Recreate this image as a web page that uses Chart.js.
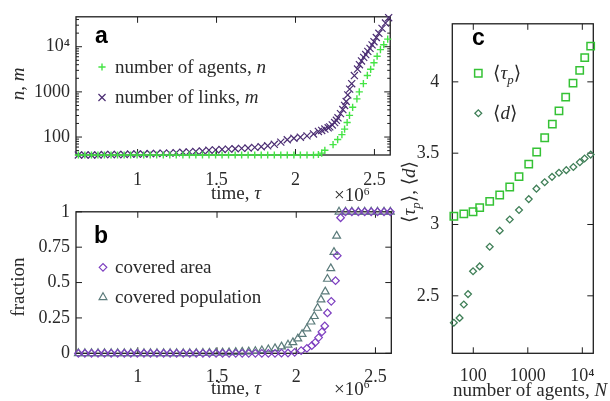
<!DOCTYPE html>
<html>
<head>
<meta charset="utf-8">
<script src="https://cdn.jsdelivr.net/npm/chart.js@4.4.1/dist/chart.umd.min.js"></script>
<style>
html, body { margin: 0; padding: 0; background: #fff; }
body { width: 610px; height: 401px; position: relative; overflow: hidden; }
canvas { position: absolute; }
</style>
</head>
<body>
<canvas id="ca" width="400" height="205" style="left:0;top:0;width:400px;height:205px"></canvas>
<canvas id="cb" width="400" height="206" style="left:0;top:195px;width:400px;height:206px"></canvas>
<canvas id="cc" width="210" height="401" style="left:400px;top:0;width:210px;height:401px"></canvas>
<script>
// ---- data (time tau in units of 10^6) ----
const tauGrid = [0.625,0.666,0.708,0.749,0.790,0.832,0.873,0.915,0.956,0.997,1.039,1.080,1.121,1.163,1.204,1.245,1.287,1.328,1.369,1.411,1.452,1.494,1.535,1.576,1.618,1.659,1.700,1.742,1.783,1.824,1.866,1.907,1.948,1.990,2.031,2.073,2.114];

// panel a
const tauLinks = tauGrid.concat([2.145,2.166,2.186,2.207,2.217,2.233,2.248,2.259,2.269,2.285,2.300,2.311,2.321,2.331,2.343,2.356,2.373,2.393,2.405,2.418,2.432,2.445,2.458,2.472,2.485,2.497,2.512,2.528,2.548,2.570,2.590]);
const links = [40,40,40,40,41,41,41,41,42,42,42,43,43,44,44,45,46,47,48,49,51,52,53,54,55,56,57,59,61,64,69,77,87,94,99,106,117,
  133,140,150,160,168,185,209,235,267,330,406,500,612,855,1150,1520,2300,3200,4000,4850,5800,6700,7900,9200,11000,12900,16000,19800,25500,33500,44000];
const tauAgents = tauGrid.concat([2.145,2.166,2.186,2.238,2.267,2.294,2.311,2.327,2.342,2.362,2.389,2.404,2.430,2.455,2.476,2.497,2.517,2.538,2.559,2.584]);
const agents = [40,40,40,40,40,40,40,40,40,40,40,40,40,40,40,40,40,40,40,40,40,40,40,40,40,40,40,40,40,40,40,40,40,40,40,40,40,
  41,44,51,68,88,113,150,210,301,455,700,1000,1520,2310,3160,4410,6160,8640,11100,14700];

// panel b
const tauPop = tauGrid.slice(0, 33).concat([1.979,2.010,2.037,2.067,2.093,2.114,2.135,2.156,2.183,2.197,2.218,2.238,2.255,2.270,2.311,2.351,2.392,2.432,2.473,2.513,2.554,2.594]);
const popFrac = [0,0,0,0,0,0,0,0,0,0,0,0,0,0,0,0,0,0,
  0.001,0.002,0.003,0.004,0.005,0.006,0.008,0.010,0.012,0.015,0.020,0.027,0.035,0.047,0.060,
  0.077,0.104,0.135,0.174,0.223,0.262,0.320,0.379,0.436,0.525,0.600,0.715,0.830,1,1,1,1,1,1,1,1,1];
const tauArea = tauGrid.slice(0, 33).concat([1.990,2.031,2.067,2.098,2.120,2.141,2.162,2.180,2.197,2.221,2.248,2.259,2.280,2.311,2.351,2.392,2.432,2.473,2.513,2.554,2.594]);
const areaFrac = [0,0,0,0,0,0,0,0,0,0,0,0,0,0,0,0,0,0,0,0,0,0,0,0,0,0,0,0,0,0,0,0.001,0.002,
  0.007,0.019,0.035,0.054,0.077,0.111,0.151,0.193,0.285,0.367,0.513,0.690,0.958,1,1,1,1,1,1,1,1];

// panel c
const nTau = [44,67,99,131,200,305,466,690,1040,1455,2040,2820,3730,4950,6750,8950,11070,14220];
const tauP = [3.058,3.074,3.089,3.118,3.162,3.207,3.263,3.336,3.423,3.508,3.608,3.704,3.797,3.893,3.991,4.080,4.170,4.250];
const nD = [44,56,67,80,99,131,200,305,466,690,1040,1440,2040,2780,3730,5080,6850,9000,11000,14220];
const dMean = [2.311,2.345,2.439,2.512,2.672,2.706,2.844,2.957,3.035,3.102,3.178,3.251,3.296,3.334,3.363,3.381,3.403,3.436,3.463,3.490];

// tick labels
const timeTicks = [1, 1.5, 2, 2.5];
const countTicks = [100, 1000, 10000];
const countMinor = [50,60,70,80,90,200,300,400,500,600,700,800,900,2000,3000,4000,5000,6000,7000,8000,9000,20000,30000,40000];
const fracTicks = [0, 0.25, 0.5, 0.75, 1];
const cTicks = [2.5, 3, 3.5, 4];
const nTicks = [100, 1000, 10000];

const SERIF = "'Liberation Serif', 'DejaVu Serif', serif";
const SANS = "'Liberation Sans', Arial, sans-serif";
const TXT = '#2a2a2a';

const pts = (xs, ys) => xs.map((x, i) => ({ x: x, y: ys[i] }));
const bigLabel = v => v === 10000 ? '10\u2074' : String(v);

function rich(ctx, parts, x, y, o) {
  o = o || {};
  const size = o.size || 19;
  ctx.save();
  ctx.translate(x, y);
  if (o.rot) ctx.rotate(o.rot);
  const items = parts.map(p => {
    const st = p[1] || '';
    const sub = st.includes('s'), sup = st.includes('u');
    const sz = sub ? size * 0.68 : sup ? size * 0.6 : size;
    const font = (st.includes('i') ? 'italic ' : '') + (o.bold ? 'bold ' : '') + sz + 'px ' + (o.family || SERIF);
    ctx.font = font;
    return { t: p[0], font: font, w: ctx.measureText(p[0]).width,
      dy: sub ? size * 0.28 : sup ? -size * 0.32 : 0 };
  });
  const total = items.reduce((s, i) => s + i.w, 0);
  let cx = o.align === 'center' ? -total / 2 : o.align === 'right' ? -total : 0;
  ctx.fillStyle = o.color || TXT;
  ctx.textBaseline = 'alphabetic';
  items.forEach(i => { ctx.font = i.font; ctx.fillText(i.t, cx, i.dy); cx += i.w; });
  ctx.restore();
}

function marker(ctx, style, r, color, x, y, bw) {
  ctx.save();
  ctx.strokeStyle = color;
  ctx.fillStyle = 'rgba(0,0,0,0)';
  ctx.lineWidth = bw;
  Chart.helpers.drawPoint(ctx, { pointStyle: style, radius: r, rotation: 0, borderWidth: bw }, x, y);
  ctx.restore();
}

// frame with inward ticks on all four sides
const frame = {
  id: 'frame',
  beforeDatasetsDraw(chart) {
    const ctx = chart.ctx, a = chart.chartArea;
    const xs = chart.scales.x, ys = chart.scales.y;
    const minor = chart.$minorY || [];
    ctx.save();
    ctx.strokeStyle = '#1e1e1e';
    ctx.lineWidth = 1;
    ctx.beginPath();
    xs.ticks.forEach(t => {
      const p = xs.getPixelForValue(t.value);
      ctx.moveTo(p, a.bottom); ctx.lineTo(p, a.bottom - 6);
      ctx.moveTo(p, a.top); ctx.lineTo(p, a.top + 6);
    });
    ys.ticks.forEach(t => {
      const p = ys.getPixelForValue(t.value);
      ctx.moveTo(a.left, p); ctx.lineTo(a.left + 6, p);
      ctx.moveTo(a.right, p); ctx.lineTo(a.right - 6, p);
    });
    minor.forEach(v => {
      const p = ys.getPixelForValue(v);
      ctx.moveTo(a.left, p); ctx.lineTo(a.left + 3, p);
      ctx.moveTo(a.right, p); ctx.lineTo(a.right - 3, p);
    });
    ctx.stroke();
    ctx.lineWidth = 1.3;
    ctx.strokeRect(a.left, a.top, a.right - a.left, a.bottom - a.top);
    ctx.restore();
  }
};

function axisOpts(type, min, max, tickVals, fmt, fit, pad) {
  return {
    type: type, min: min, max: max,
    afterBuildTicks: s => { s.ticks = tickVals.map(v => ({ value: v })); },
    afterFit: fit,
    grid: { display: false, drawTicks: false },
    border: { display: false },
    ticks: { autoSkip: false, maxRotation: 0, padding: pad, color: TXT,
      font: { family: SERIF, size: 18 }, callback: v => fmt(v) }
  };
}

function base(layoutPad, scales, datasets, extra) {
  return {
    type: 'scatter',
    data: { datasets: datasets },
    options: {
      responsive: false, animation: false, events: [],
      layout: { padding: layoutPad },
      plugins: { legend: { display: false }, tooltip: { enabled: false } },
      scales: scales
    },
    plugins: [frame, extra]
  };
}

function ds(data, style, r, color, bw) {
  return { data: data, showLine: false, clip: false, pointStyle: style, pointRadius: r,
    borderColor: color, backgroundColor: 'rgba(0,0,0,0)', pointBorderWidth: bw };
}

const C_AGENTS = '#45e445', C_LINKS = '#4b2d73', C_AREA = '#7d3fc0', C_POP = '#5b7b7b', C_TAU = '#35c235', C_D = '#3f7f57';

// ---- panel a ----
const chartA = new Chart(document.getElementById('ca'), base(
  { left: 0, top: 13, right: 2.5, bottom: 0 },
  {
    x: axisOpts('linear', 0.61, 2.6, timeTicks, v => String(v), s => { s.height = 50; }, 14),
    y: axisOpts('logarithmic', 40, 46000, countTicks, bigLabel, s => { s.width = 76; }, 6)
  },
  [ds(pts(tauAgents, agents), 'cross', 3.6, C_AGENTS, 1.4),
   ds(pts(tauLinks, links), 'crossRot', 5, C_LINKS, 1.2)],
  { id: 'txtA', afterDraw(chart) {
      const ctx = chart.ctx;
      rich(ctx, [['a']], 95, 43.3, { family: SANS, bold: true, size: 23, color: '#000' });
      marker(ctx, 'cross', 3.6, C_AGENTS, 102, 67, 1.4);
      rich(ctx, [['number of agents, '], ['n', 'i']], 115, 72.5);
      marker(ctx, 'crossRot', 5, C_LINKS, 102, 97.5, 1.2);
      rich(ctx, [['number of links, '], ['m', 'i']], 115, 103);
      rich(ctx, [['n', 'i'], [', '], ['m', 'i']], 23.5, 84, { rot: -Math.PI / 2, align: 'center' });
      rich(ctx, [['time, '], ['\u03c4', 'i']], 236, 199, { align: 'center' });
      rich(ctx, [['\u00d710'], ['6', 'u']], 334, 201);
  } }
));
chartA.$minorY = countMinor;
chartA.draw();

// ---- panel b ----
new Chart(document.getElementById('cb'), base(
  { left: 0, top: 14, right: 2.5, bottom: 0 },
  {
    x: axisOpts('linear', 0.61, 2.6, timeTicks, v => String(v), s => { s.height = 47.7; }, 13),
    y: axisOpts('linear', 0, 1, fracTicks, v => String(v), s => { s.width = 76; }, 6)
  },
  [ds(pts(tauArea, areaFrac), 'rectRot', 3.8, C_AREA, 1.2),
   ds(pts(tauPop, popFrac), 'triangle', 4.5, C_POP, 1.2)],
  { id: 'txtB', afterDraw(chart) {
      const ctx = chart.ctx;
      rich(ctx, [['b']], 94, 47.7, { family: SANS, bold: true, size: 23, color: '#000' });
      marker(ctx, 'rectRot', 3.8, C_AREA, 103, 72.3, 1.2);
      rich(ctx, [['covered area']], 115, 77.5);
      marker(ctx, 'triangle', 4.5, C_POP, 103, 102.3, 1.2);
      rich(ctx, [['covered population']], 115, 107.5);
      rich(ctx, [['fraction']], 23.5, 92, { rot: -Math.PI / 2, align: 'center' });
      rich(ctx, [['time, '], ['\u03c4', 'i']], 236, 198.5, { align: 'center' });
      rich(ctx, [['\u00d710'], ['6', 'u']], 334, 199.5);
  } }
));

// ---- panel c ----
new Chart(document.getElementById('cc'), base(
  { left: 0, top: 9, right: 16.7, bottom: 0 },
  {
    x: axisOpts('logarithmic', 41.2, 15900, nTicks, bigLabel, s => { s.height = 47.7; }, 12),
    y: axisOpts('linear', 2.097, 4.407, cTicks, v => String(v), s => { s.width = 52.3; }, 13)
  },
  [ds(pts(nTau, tauP), 'rect', 5.2, C_TAU, 1.5),
   ds(pts(nD, dMean), 'rectRot', 3.4, C_D, 1.3)],
  { id: 'txtC', afterDraw(chart) {
      const ctx = chart.ctx;
      rich(ctx, [['c']], 72, 45, { family: SANS, bold: true, size: 23, color: '#000' });
      marker(ctx, 'rect', 5.2, C_TAU, 78.3, 73.3, 1.5);
      rich(ctx, [['\u27e8'], ['\u03c4', 'i'], ['p', 'is'], ['\u27e9']], 93, 78.5);
      marker(ctx, 'rectRot', 3.4, C_D, 78.3, 113.3, 1.3);
      rich(ctx, [['\u27e8'], ['d', 'i'], ['\u27e9']], 93, 118.5);
      rich(ctx, [['\u27e8'], ['\u03c4', 'i'], ['p', 'is'], ['\u27e9, \u27e8'], ['d', 'i'], ['\u27e9']], 15, 192, { rot: -Math.PI / 2, align: 'center' });
      rich(ctx, [['number of agents, '], ['N', 'i']], 53, 396);
  } }
));
</script>
</body>
</html>
